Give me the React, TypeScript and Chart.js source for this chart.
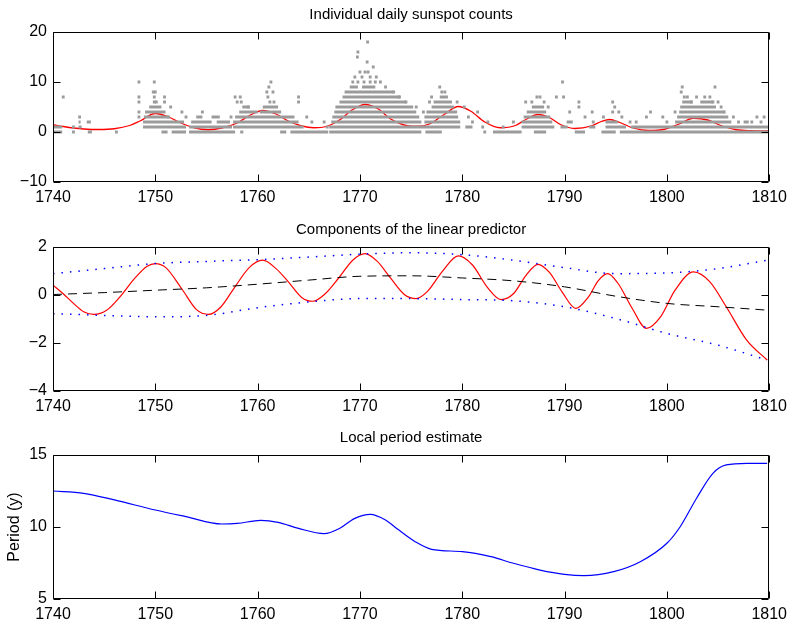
import React, { useEffect, useRef } from 'react';
import { Chart, registerables } from 'chart.js';

Chart.register(...registerables);

// ---------- shared axis data ----------
const yearTicks = [1740, 1750, 1760, 1770, 1780, 1790, 1800, 1810];
const countTicks = [-10, 0, 10, 20];
const predictorTicks = [-4, -2, 0, 2];
const periodTicks = [5, 10, 15];

// ---------- panel 1: individual daily sunspot counts ----------
// dense runs of daily observations: [count level, from year, to year]
const dailyCountRuns: [number, number, number][] = [
  [0, 1740.0, 1740.9], [0, 1743.4, 1743.8], [0, 1750.6, 1751.2], [0, 1751.6, 1753.0],
  [0, 1753.3, 1757.8], [0, 1758.3, 1758.6], [0, 1762.2, 1762.8], [0, 1763.2, 1766.9],
  [0, 1767.0, 1776.0], [0, 1776.4, 1778.0], [0, 1783.0, 1785.8], [0, 1787.0, 1788.2],
  [0, 1791.0, 1792.0], [0, 1793.6, 1795.0], [0, 1795.4, 1810.0],
  [1, 1740.0, 1740.9], [1, 1742.5, 1742.8], [1, 1748.8, 1753.0], [1, 1753.3, 1757.5],
  [1, 1757.6, 1764.5], [1, 1767.0, 1776.5], [1, 1776.5, 1779.8], [1, 1780.3, 1781.0],
  [1, 1785.8, 1789.0], [1, 1789.6, 1790.3], [1, 1792.4, 1793.0], [1, 1794.0, 1796.0],
  [1, 1796.5, 1810.0],
  [2, 1742.5, 1742.7], [2, 1743.3, 1743.7], [2, 1748.8, 1752.8], [2, 1753.5, 1755.5],
  [2, 1756.0, 1757.3], [2, 1757.6, 1764.0], [2, 1767.2, 1776.0], [2, 1776.3, 1779.8],
  [2, 1785.8, 1788.8], [2, 1790.2, 1790.8], [2, 1794.0, 1795.2], [2, 1800.8, 1806.3],
  [2, 1807.5, 1808.0],
  [3, 1748.9, 1751.3], [3, 1754.0, 1754.6], [3, 1755.5, 1756.3], [3, 1757.8, 1763.6],
  [3, 1767.3, 1775.8], [3, 1776.3, 1779.6], [3, 1786.0, 1788.6], [3, 1801.0, 1806.0],
  [4, 1749.0, 1751.0], [4, 1758.2, 1760.0], [4, 1760.2, 1762.3], [4, 1767.5, 1775.5],
  [4, 1776.5, 1779.5], [4, 1786.3, 1788.2], [4, 1801.2, 1805.6],
  [5, 1749.4, 1750.6], [5, 1758.5, 1759.2], [5, 1760.5, 1762.0], [5, 1767.6, 1775.2],
  [5, 1777.0, 1779.2], [5, 1786.8, 1788.0], [5, 1801.3, 1804.8],
  [6, 1768.0, 1774.5], [6, 1777.2, 1779.0], [6, 1801.5, 1802.5], [6, 1803.5, 1804.5],
  [7, 1768.3, 1774.0], [7, 1777.8, 1778.6],
  [8, 1768.5, 1773.3],
  [9, 1769.0, 1769.8], [9, 1770.2, 1771.5],
];

// isolated daily observations: [year, count]
const dailyCountSpots: [number, number][] = [
  [1741.0, 7], [1742.0, 0], [1742.0, 1], [1742.6, 3], [1746.2, 0],
  [1748.4, 10], [1748.4, 7], [1748.4, 6], [1748.4, 4], [1748.4, 3],
  [1749.9, 10], [1749.8, 8], [1750.0, 8], [1749.9, 7], [1749.9, 6], [1750.1, 6],
  [1750.9, 7], [1750.9, 6], [1751.5, 5], [1752.6, 4], [1751.3, 3], [1753.0, 3],
  [1754.6, 4], [1757.4, 3], [1757.8, 7], [1758.3, 7], [1758.0, 6], [1758.4, 6],
  [1759.1, 5], [1760.9, 8], [1761.0, 7], [1761.1, 9], [1761.3, 10], [1761.5, 8],
  [1761.2, 6], [1761.6, 6], [1764.0, 7], [1764.0, 6], [1764.8, 3], [1765.3, 2],
  [1766.5, 2], [1766.8, 1],
  [1769.8, 16], [1769.75, 15], [1770.75, 18], [1770.7, 14], [1771.3, 13],
  [1770.0, 12], [1770.5, 12], [1770.8, 12], [1769.5, 11], [1770.2, 11], [1771.0, 11],
  [1771.6, 11], [1769.3, 10], [1769.8, 10], [1770.4, 10], [1771.0, 10], [1771.5, 10],
  [1772.0, 10], [1772.5, 9], [1773.3, 8], [1773.8, 7], [1774.5, 6], [1775.5, 5],
  [1776.2, 4], [1777.0, 7], [1777.8, 9], [1778.0, 8], [1778.3, 8], [1776.8, 6],
  [1779.5, 6], [1780.2, 5], [1780.6, 3], [1781.0, 2], [1781.5, 4], [1782.0, 1],
  [1782.5, 2], [1782.2, 0], [1784.0, 1], [1785.0, 2], [1786.2, 6], [1786.8, 6],
  [1787.3, 7], [1787.6, 7], [1788.0, 6], [1788.4, 5], [1789.2, 7], [1789.8, 10],
  [1789.9, 7], [1790.5, 4], [1791.4, 6], [1791.4, 5], [1792.0, 3], [1792.8, 2],
  [1792.7, 4], [1793.8, 3], [1794.7, 6], [1794.7, 4], [1794.9, 5], [1795.3, 4],
  [1795.6, 3], [1796.4, 2], [1797.0, 2], [1798.0, 3], [1798.4, 4], [1799.6, 3],
  [1800.0, 2], [1800.8, 4], [1801.4, 8], [1801.5, 9], [1801.7, 7], [1802.0, 7],
  [1802.4, 6], [1802.9, 7], [1803.4, 6], [1803.7, 7], [1804.2, 7], [1804.5, 6],
  [1804.7, 9], [1805.0, 6], [1805.3, 5], [1805.6, 4], [1806.5, 3], [1807.0, 2],
  [1808.3, 2], [1808.8, 3], [1809.5, 3], [1809.2, 2],
];

// fitted mean daily count (red)
const meanYears = [1740, 1741, 1742, 1743, 1744.5, 1746, 1747.5, 1748.5, 1750, 1751.3, 1752.5,
  1753.7, 1755.2, 1756.5, 1758, 1759.2, 1760.5, 1761.8, 1763, 1764.3, 1765.5, 1766.7, 1768,
  1769.3, 1770.5, 1771.8, 1773, 1774.3, 1775.5, 1776.8, 1778.3, 1779.6, 1780.8, 1782.2,
  1783.7, 1785.2, 1786.3, 1787.4, 1788.5, 1789.6, 1791, 1792.6, 1793.6, 1794.4, 1795.4,
  1796.7, 1798.2, 1799.8, 1801.2, 1802.6, 1804, 1805.4, 1806.8, 1808.2, 1810];
const meanCounts = [1.45, 1.1, 0.8, 0.6, 0.5, 0.65, 1.3, 2.2, 3.7, 3.0, 1.8,
  0.9, 0.45, 0.8, 1.8, 3.3, 4.3, 3.6, 2.2, 1.2, 0.85, 1.1, 2.4,
  4.5, 5.5, 4.6, 2.6, 1.4, 1.15, 1.6, 3.6, 5.1, 4.2, 2.0,
  0.85, 1.3, 2.6, 3.5, 2.9, 1.5, 0.7, 1.2, 2.1, 2.5, 1.9,
  0.8, 0.3, 0.55, 1.6, 2.75, 2.4, 1.2, 0.45, 0.25, 0.2];

// ---------- panel 2: components of the linear predictor ----------
const predYears = [1740, 1741, 1742, 1743, 1744, 1745.2, 1746.5, 1748, 1749.2, 1750, 1751,
  1752.6, 1754, 1755.2, 1756.4, 1757.8, 1759.2, 1760.5, 1761.8, 1763, 1764.3, 1765.4,
  1766.6, 1768, 1769.3, 1770.5, 1771.7, 1773, 1774.4, 1775.5, 1776.6, 1778, 1779.6, 1781,
  1782.4, 1783.8, 1785, 1786.2, 1787.4, 1788.5, 1789.8, 1791.1, 1792.3, 1793.3, 1794.2,
  1795.2, 1796.6, 1798, 1799.4, 1800.8, 1802.6, 1804.2, 1805.8, 1807.8, 1809.8];
const predictorTotal = [0.41, 0.05, -0.35, -0.7, -0.81, -0.65, -0.1, 0.7, 1.2, 1.31, 1.15,
  0.25, -0.6, -0.81, -0.5, 0.35, 1.15, 1.45, 1.1, 0.55, -0.1, -0.26,
  0.05, 0.75, 1.45, 1.72, 1.4, 0.7, 0.0, -0.15, 0.15, 0.95, 1.63, 1.25,
  0.35, -0.19, 0.05, 0.8, 1.28, 0.95, 0.1, -0.56, -0.1, 0.6, 0.89,
  0.5, -0.55, -1.39, -0.9, 0.2, 0.96, 0.55, -0.49, -1.88, -2.71];

const trendYears = [1740, 1745, 1750, 1755, 1760, 1765, 1770, 1775, 1780, 1785, 1790, 1795, 1800, 1805, 1809.8];
const trendValues = [0.02, 0.1, 0.2, 0.3, 0.45, 0.62, 0.78, 0.8, 0.71, 0.59, 0.34, -0.05, -0.35, -0.49, -0.63];
const envelopeUpper = [0.89, 1.1, 1.31, 1.4, 1.47, 1.58, 1.7, 1.76, 1.68, 1.45, 1.14, 0.89, 0.92, 1.1, 1.45];
const envelopeLower = [-0.78, -0.85, -0.91, -0.85, -0.53, -0.29, -0.15, -0.15, -0.19, -0.24, -0.49, -0.98, -1.6, -2.09, -2.71];

// ---------- panel 3: local period estimate ----------
const periodYears = [1740, 1743, 1746, 1750, 1753, 1756.5, 1758, 1760.3, 1762, 1764, 1766.5,
  1768, 1769.5, 1771, 1772.5, 1773.7, 1775.4, 1777, 1780, 1782.8, 1785, 1787.6, 1790,
  1791.9, 1794.8, 1797.4, 1800, 1801.3, 1802.9, 1804.5, 1805.8, 1807.8, 1809.8];
const periodValues = [12.5, 12.34, 11.88, 11.18, 10.72, 10.21, 10.25, 10.46, 10.32, 9.9, 9.54,
  9.9, 10.6, 10.88, 10.49, 9.84, 8.98, 8.45, 8.29, 7.94, 7.48, 7.01, 6.71,
  6.62, 6.9, 7.59, 8.87, 10.02, 12.0, 13.73, 14.31, 14.42, 14.42];

// ---------- helpers ----------
const FONT = '"Liberation Sans", Arial, Helvetica, sans-serif';
const GRAY = '#9b9b9b';
const fmt = (v: number) => (v < 0 ? '\u2212' + Math.abs(v) : String(v));
const pairs = (xs: number[], ys: number[]) => xs.map((x, i) => ({ x, y: ys[i] }));

const framePlugin = (title: string) => ({
  id: 'matlabFrame',
  afterDatasetsDraw(chart: any) {
    const { ctx, chartArea: a, scales } = chart;
    const L = Math.round(a.left) + 0.5;
    const R = Math.round(a.right) - 0.5;
    const T = Math.round(a.top) + 0.5;
    const B = Math.round(a.bottom) - 0.5;
    ctx.save();
    ctx.strokeStyle = '#000';
    ctx.lineWidth = 1;
    ctx.beginPath();
    ctx.rect(L, T, R - L, B - T);
    const len = 7;
    scales.x.ticks.forEach((t: any) => {
      const px = Math.round(scales.x.getPixelForValue(t.value)) + 0.5;
      ctx.moveTo(px, B); ctx.lineTo(px, B - len);
      ctx.moveTo(px, T); ctx.lineTo(px, T + len);
    });
    scales.y.ticks.forEach((t: any) => {
      const py = Math.round(scales.y.getPixelForValue(t.value)) + 0.5;
      ctx.moveTo(L, py); ctx.lineTo(L + len, py);
      ctx.moveTo(R, py); ctx.lineTo(R - len, py);
    });
    ctx.stroke();
    ctx.fillStyle = '#000';
    ctx.font = `15px ${FONT}`;
    ctx.textAlign = 'center';
    ctx.textBaseline = 'alphabetic';
    ctx.fillText(title, (a.left + a.right) / 2, a.top - 13);
    ctx.restore();
  },
});

type PanelProps = {
  top: number;
  height: number;
  padTop: number;
  xAxisHeight: number;
  yMin: number;
  yMax: number;
  yTicks: number[];
  title: string;
  yTitle?: string;
  makeDatasets: () => any[];
};

function Panel(p: PanelProps) {
  const ref = useRef<HTMLCanvasElement | null>(null);
  useEffect(() => {
    if (!ref.current) return;
    const tickFont = { family: FONT, size: 16 };
    const chart = new Chart(ref.current, {
      type: 'line',
      data: { datasets: p.makeDatasets() },
      options: {
        animation: false,
        responsive: false,
        devicePixelRatio: 1,
        layout: { padding: { top: p.padTop, right: 20, left: 0, bottom: 0 } },
        plugins: { legend: { display: false }, tooltip: { enabled: false }, title: { display: false } },
        elements: { line: { tension: 0 } },
        scales: {
          x: {
            type: 'linear',
            min: 1740,
            max: 1810,
            grid: { display: false, drawTicks: false },
            border: { display: false },
            ticks: { padding: 6, font: tickFont, color: '#000', maxRotation: 0, autoSkip: false,
              callback: (v: any) => fmt(Number(v)) },
            afterBuildTicks: (s: any) => { s.ticks = yearTicks.map((value) => ({ value })); },
            afterFit: (s: any) => { s.height = p.xAxisHeight; },
          },
          y: {
            type: 'linear',
            min: p.yMin,
            max: p.yMax,
            grid: { display: false, drawTicks: false },
            border: { display: false },
            ticks: { padding: 6, font: tickFont, color: '#000', autoSkip: false,
              callback: (v: any) => fmt(Number(v)) },
            afterBuildTicks: (s: any) => { s.ticks = p.yTicks.map((value) => ({ value })); },
            afterFit: (s: any) => { s.width = 53; },
            title: p.yTitle
              ? { display: true, text: p.yTitle, color: '#000', font: { family: FONT, size: 16 }, padding: { top: 5, bottom: 0 } }
              : { display: false },
          },
        },
      } as any,
      plugins: [framePlugin(p.title)],
    });
    return () => chart.destroy();
  }, []);
  return (
    <canvas
      ref={ref}
      width={793}
      height={p.height}
      style={{ position: 'absolute', left: 0, top: p.top, width: 793, height: p.height }}
    />
  );
}

const sunspotDatasets = () => {
  const runs: any[] = [];
  dailyCountRuns.forEach(([lvl, a, b]) => {
    runs.push({ x: a, y: lvl }, { x: b, y: lvl }, { x: b, y: null });
  });
  return [
    {
      data: runs, borderColor: GRAY, borderWidth: 3, borderCapStyle: 'butt',
      pointRadius: 0, spanGaps: false, fill: false,
    },
    {
      data: dailyCountSpots.map(([x, y]) => ({ x, y })), showLine: false,
      pointStyle: 'rect', pointRadius: 2, pointBorderWidth: 0,
      pointBackgroundColor: GRAY, borderColor: GRAY,
    },
    {
      data: pairs(meanYears, meanCounts), borderColor: '#ff0000', borderWidth: 1.3,
      pointRadius: 0, cubicInterpolationMode: 'monotone', fill: false,
    },
  ];
};

const predictorDatasets = () => [
  {
    data: pairs(trendYears, envelopeUpper), borderColor: '#0000ff', borderWidth: 1.5,
    borderDash: [1.5, 7], pointRadius: 0, cubicInterpolationMode: 'monotone', fill: false,
  },
  {
    data: pairs(trendYears, envelopeLower), borderColor: '#0000ff', borderWidth: 1.5,
    borderDash: [1.5, 7], pointRadius: 0, cubicInterpolationMode: 'monotone', fill: false,
  },
  {
    data: pairs(trendYears, trendValues), borderColor: '#000000', borderWidth: 1,
    borderDash: [9, 6], pointRadius: 0, cubicInterpolationMode: 'monotone', fill: false,
  },
  {
    data: pairs(predYears, predictorTotal), borderColor: '#ff0000', borderWidth: 1.2,
    pointRadius: 0, cubicInterpolationMode: 'monotone', fill: false,
  },
];

const periodDatasets = () => [
  {
    data: pairs(periodYears, periodValues), borderColor: '#0000ff', borderWidth: 1.2,
    pointRadius: 0, cubicInterpolationMode: 'monotone', fill: false,
  },
];

export default function App() {
  return (
    <div>
      <Panel top={0} height={210} padTop={32} xAxisHeight={28} yMin={-10} yMax={20}
        yTicks={countTicks} title="Individual daily sunspot counts" makeDatasets={sunspotDatasets} />
      <Panel top={210} height={210} padTop={37} xAxisHeight={29} yMin={-4} yMax={2}
        yTicks={predictorTicks} title="Components of the linear predictor" makeDatasets={predictorDatasets} />
      <Panel top={420} height={205} padTop={35} xAxisHeight={26} yMin={5} yMax={15}
        yTicks={periodTicks} title="Local period estimate" yTitle="Period (y)" makeDatasets={periodDatasets} />
    </div>
  );
}
